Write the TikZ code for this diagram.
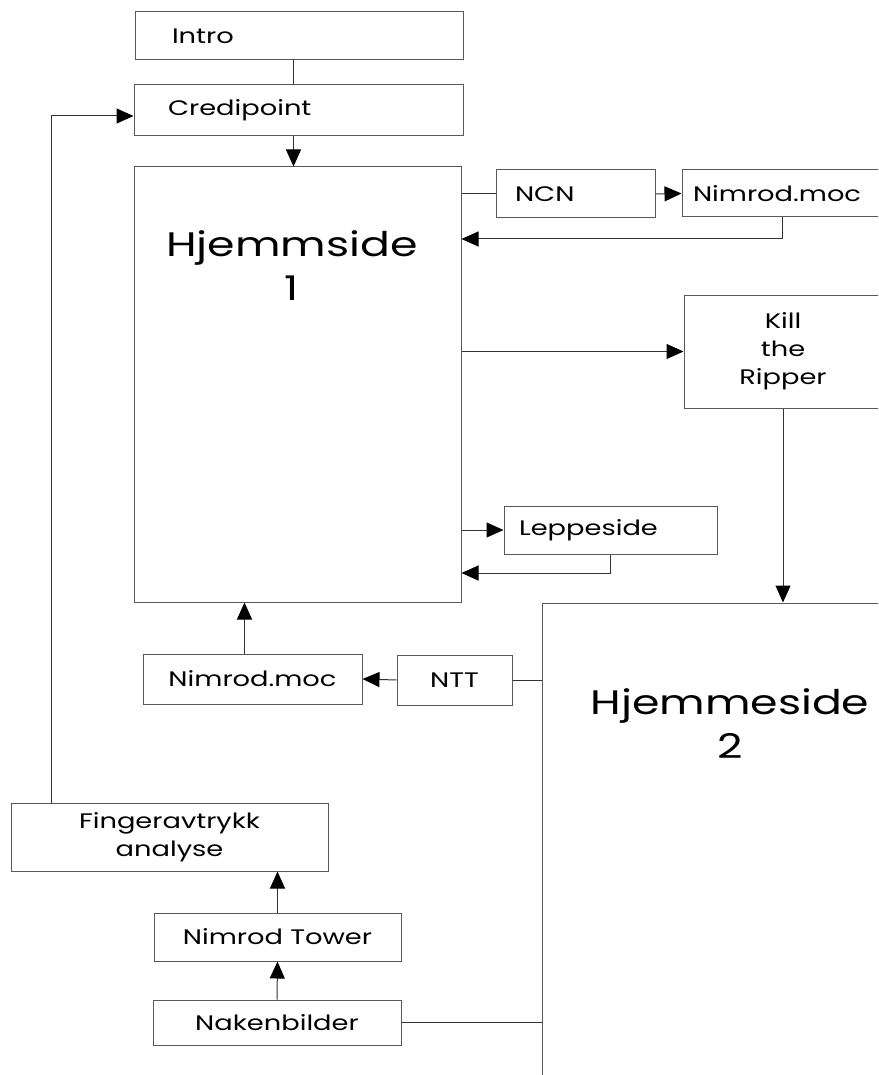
\documentclass[tikz,border=0pt]{standalone}
\usepackage{fontspec}
\setmainfont{Poppins}[FakeStretch=1.3]
\usetikzlibrary{arrows.meta}
\definecolor{boxline}{gray}{0.35}
\definecolor{wire}{gray}{0.2}
\tikzset{
  box/.style={draw=boxline,line width=1pt,rectangle,inner sep=0pt,font=\fontsize{21}{28}\selectfont,align=center},
  bigtext/.style={font=\fontsize{34}{44}\selectfont,align=center,inner sep=0pt},
  arr/.style={draw=wire,line width=1pt,-{Triangle[length=17pt,width=15pt,color=black]}},
  wireline/.style={draw=wire,line width=1pt}
}
\begin{document}
\begin{tikzpicture}[x=1pt,y=-1pt]
  \useasboundingbox (0,0) rectangle (878,1075);
  \clip (0,0) rectangle (878,1075);
  % left column
  \node (intro) at (299,36) [box,minimum height=48pt,inner xsep=37pt,text width=254pt,align=left] {Intro};
  \node (credi) at (298.5,110.5) [box,minimum height=51pt,inner xsep=34pt,text width=261pt,align=left] {Credipoint};
  \node (hj1) at (297.5,384.5) [box,minimum width=327pt,minimum height=435pt] {};
  \node (hj1txt) at (292,266) [bigtext] {Hjemmside\\1};
  \node (nmoc2) at (252.5,679) [box,minimum width=219pt,minimum height=50pt] {Nimrod.moc};
  \node (ntt) at (454.5,680) [box,minimum width=115pt,minimum height=50pt] {NTT};
  \node (finger) at (169.5,837) [box,minimum width=317pt,minimum height=68pt] {Fingeravtrykk\\analyse};
  \node (tower) at (277.5,937) [box,minimum width=247pt,minimum height=48pt] {Nimrod Tower};
  \node (naken) at (277,1022.5) [box,minimum width=248pt,minimum height=45pt] {Nakenbilder};
  % right column
  \node (ncn) at (575.5,194) [box,minimum height=48pt,inner xsep=19pt,text width=121pt,align=left] {NCN};
  \node (nmoc1) at (797,193.5) [box,minimum height=47pt,inner xsep=11pt,text width=208pt,align=left] {Nimrod.moc};
  \node (kill) at (783,351.5) [box,minimum width=198pt,minimum height=113pt] {Kill\\the\\Ripper};
  \node (lepp) at (610.5,530) [box,minimum height=48pt,inner xsep=15pt,text width=183pt,align=left] {Leppeside};
  \node (hj2) at (730,851.5) [box,minimum width=376pt,minimum height=497pt] {};
  \node (hj2txt) at (730,724) [bigtext] {Hjemmeside\\2};
  % connectors
  \draw [wireline] ([xshift=-6pt]intro.south) -- ([xshift=-6pt]intro.south |- credi.north);
  \draw [arr] ([xshift=-5pt]credi.south) -- ([xshift=-5pt]credi.south |- hj1.north);
  \draw [wireline] (hj1.east |- ncn.west) -- (ncn.west);
  \draw [arr] (ncn.east) -- (nmoc1.west);
  \draw [arr] ([xshift=-15pt]nmoc1.south) |- (hj1.east |- 0,239);
  \draw [arr] (hj1.east |- kill.west) -- (kill.west);
  \draw [arr] (kill.south) -- (kill.south |- hj2.north);
  \draw [arr] (hj1.east |- lepp.west) -- (lepp.west);
  \draw [arr] (lepp.south) |- (hj1.east |- 0,573);
  \draw [wireline] (ntt.east) -- (ntt.east -| hj2.west);
  \draw [arr] (ntt.west) -- (nmoc2.east);
  \draw [arr] ([xshift=-8pt]nmoc2.north) -- ([xshift=-8pt]nmoc2.north |- hj1.south);
  \draw [arr] (finger.north -| 51,0) |- (credi.west |- 0,116);
  \draw [arr] (tower.north) -- (tower.north |- finger.south);
  \draw [arr] (naken.north) -- (tower.south);
  \draw [wireline] (naken.east) -- (naken.east -| hj2.west);
\end{tikzpicture}
\end{document}
